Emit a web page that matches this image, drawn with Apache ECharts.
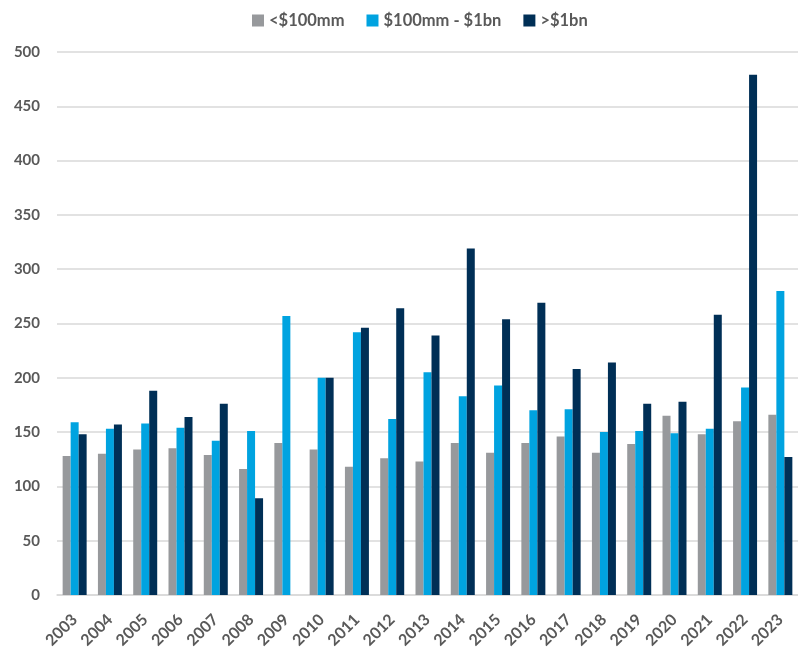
<!DOCTYPE html>
<html><head><meta charset="utf-8">
<script src="https://cdn.jsdelivr.net/npm/echarts@6/dist/echarts.min.js"></script>
<style>html,body{margin:0;padding:0;background:#fff}#c{width:798px;height:651px}</style>
</head><body><div id="c"></div>
<script>
const years = ['2003','2004','2005','2006','2007','2008','2009','2010','2011','2012','2013','2014','2015','2016','2017','2018','2019','2020','2021','2022','2023'];
const small = [128,130,134,135,129,116,140,134,118,126,123,140,131,140,146,131,139,165,148,160,166];
const mid = [159,153,158,154,142,151,257,200,242,162,205,183,193,170,171,150,151,149,153,191,280];
const large = [148,157,188,164,176,89,null,200,246,264,239,319,254,269,208,214,176,178,258,479,127];
const seriesNames = ['<$100mm','$100mm - $1bn','>$1bn'];
const colors = ['#97999c','#00a3e0','#002f56'];
const yTicks = {min:0,max:500,interval:50};

const font = 'Lato, "Open Sans", sans-serif';
const chart = echarts.init(document.getElementById('c'));
const data = [small, mid, large];
chart.setOption({
  animation:false,
  color: colors,
  legend:{top:7,left:247,itemWidth:12,itemHeight:12,itemGap:22,icon:'rect',
    textStyle:{fontFamily:font,fontWeight:'bold',fontSize:16.5,color:'#595959'}},
  grid:{left:57,right:0,top:52,bottom:54},
  xAxis:{type:'category',data:years,
    axisLine:{lineStyle:{color:'#d9d9d9',width:1.5}},axisTick:{show:false},
    axisLabel:{rotate:45,fontFamily:font,fontWeight:'bold',fontSize:16,color:'#595959',margin:22}},
  yAxis:{type:'value',min:yTicks.min,max:yTicks.max,interval:yTicks.interval,
    axisLine:{show:false},axisTick:{show:false},
    splitLine:{lineStyle:{color:'#d9d9d9',width:1.5}},
    axisLabel:{fontFamily:font,fontWeight:'bold',fontSize:15,color:'#595959',margin:17}},
  series: seriesNames.map((n,i)=>({name:n,type:'bar',data:data[i],barGap:'0%',barCategoryGap:'32%'}))
});
</script></body></html>
